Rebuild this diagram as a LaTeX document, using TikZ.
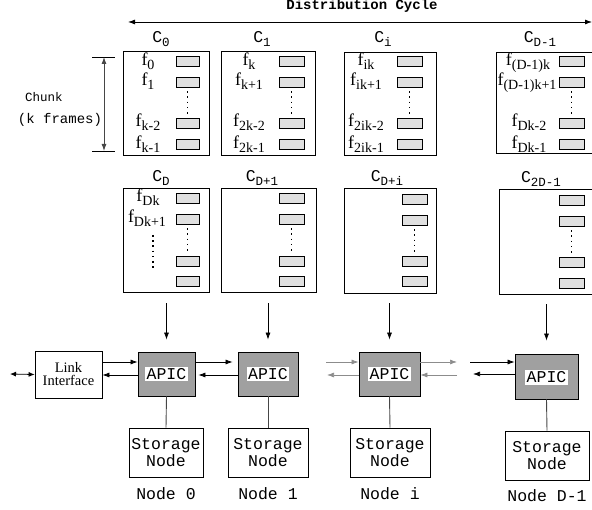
\documentclass[tikz,border=0pt]{standalone}
\usepackage{fontspec}
\setmainfont{Liberation Serif}
\setmonofont{Liberation Mono}
\usetikzlibrary{arrows.meta}
\definecolor{frmfill}{RGB}{224,224,224}
\definecolor{apicfill}{RGB}{160,160,160}
\definecolor{linkgray}{RGB}{140,140,140}
\definecolor{stemgray}{RGB}{70,70,70}
\newcommand\CL[1]{{\fontsize{16.5}{16.5}\selectfont\ttfamily C\raisebox{-3.5pt}{\fontsize{12.5}{12.5}\selectfont #1}}}
\newcommand\FL[1]{{\fontsize{18}{18}\selectfont f\raisebox{-4pt}{\fontsize{14}{14}\selectfont #1}}}
\newcommand\framecol[7]{%
  \node[frm, minimum width=#3] (#1a) at (#2,#4) {};
  \node[frm, minimum width=#3] (#1b) at (#2,#5) {};
  \node[frm, minimum width=#3] (#1c) at (#2,#6) {};
  \node[frm, minimum width=#3] (#1d) at (#2,#7) {};
  \draw[dotline] ([yshift=-4pt]#1b.south) -- ([yshift=3pt]#1c.north);}
\begin{document}
\begin{tikzpicture}[x=1pt,y=-1pt,
  chunkbox/.style={draw, line width=0.8pt, inner sep=0pt},
  frm/.style={draw, line width=0.6pt, fill=frmfill, minimum height=10pt, inner sep=0pt},
  dotline/.style={line width=1.6pt, dash pattern=on 1.6pt off 3.6pt},
  arr/.style={line width=0.7pt, -{Latex[length=7pt,width=5pt]}},
  garr/.style={line width=0.7pt, draw=linkgray, -{Latex[length=7pt,width=5pt]}, linkgray},
  apicbox/.style={draw, line width=0.8pt, fill=apicfill, minimum width=60pt, minimum height=44pt, inner sep=0pt},
  apiclbl/.style={fill=white, inner sep=1.5pt, font=\fontsize{16.5}{16.5}\selectfont\ttfamily},
  storebox/.style={draw, line width=0.8pt, minimum height=49pt, inner sep=0pt, align=center, font=\fontsize{16.5}{17}\selectfont\ttfamily},
  mono/.style={font=\fontsize{16.5}{16.5}\selectfont\ttfamily},
  flbl/.style={anchor=base, inner sep=0pt},
  clbl/.style={anchor=base, inner sep=0pt}]
\useasboundingbox (0,0) rectangle (592,510);

% distribution cycle
\node[anchor=base, inner sep=0pt, font=\fontsize{14}{14}\selectfont\ttfamily\bfseries] (dist) at (362,10) {Distribution Cycle};
\coordinate (dl) at (128,22);
\coordinate (dr) at (592,22);
\draw[line width=0.8pt, {Latex[length=7pt,width=5pt]}-{Latex[length=7pt,width=5pt]}] (dl) -- (dr);

% chunk bracket
\coordinate (bt) at (104,57);
\coordinate (bb) at (104,151);
\draw[line width=0.7pt] (92,57) -- (115,57) (92,151) -- (115,151);
\draw[line width=0.9pt, draw=stemgray, {Latex[length=7pt,width=5pt]}-{Latex[length=7pt,width=5pt]}] (bt) -- (bb);
\node[anchor=base, inner sep=0pt, font=\fontsize{12.5}{12.5}\selectfont\ttfamily] (chunk) at (44,102) {Chunk};
\node[anchor=base, inner sep=0pt, font=\fontsize{14}{14}\selectfont\ttfamily] (kfr) at (60,124) {(k frames)};

% row 1 chunk boxes
\node[chunkbox, minimum width=86pt, minimum height=104pt] (c0) at (166,103) {};
\node[chunkbox, minimum width=94pt, minimum height=104pt] (c1) at (268,103) {};
\node[chunkbox, minimum width=92pt, minimum height=103pt] (ci) at (390,103.5) {};
\node[chunkbox, minimum width=98pt, minimum height=101pt] (cd1) at (545,102.5) {};
\node[clbl] (lc0) at (161,43) {\CL{0}};
\node[clbl] (lc1) at (262,43) {\CL{1}};
\node[clbl] (lci) at (383,43) {\CL{i}};
\node[clbl] (lcd1) at (540,43) {\CL{D-1}};

\framecol{fa}{187.5}{23pt}{61.5}{82}{123}{144.5}
\framecol{fb}{291.5}{25pt}{61.5}{82}{123}{144.5}
\framecol{fc}{409.5}{25pt}{61.5}{82}{123}{144.5}
\framecol{fd}{571.5}{25pt}{61.5}{82}{123}{144.5}

\node[flbl] (f0) at (148,65.5) {\FL{0}};
\node[flbl] (f1) at (148,86) {\FL{1}};
\node[flbl] (f2) at (148,127) {\FL{k-2}};
\node[flbl] (f3) at (148,148.5) {\FL{k-1}};
\node[flbl] (g0) at (249,65.5) {\FL{k}};
\node[flbl] (g1) at (249,86) {\FL{k+1}};
\node[flbl] (g2) at (249,127) {\FL{2k-2}};
\node[flbl] (g3) at (249,148.5) {\FL{2k-1}};
\node[flbl] (h0) at (366,65.5) {\FL{ik}};
\node[flbl] (h1) at (366,86) {\FL{ik+1}};
\node[flbl] (h2) at (366,127) {\FL{2ik-2}};
\node[flbl] (h3) at (366,148.5) {\FL{2ik-1}};
\node[flbl] (j0) at (528,65.5) {\FL{(D-1)k}};
\node[flbl] (j1) at (527,86) {\FL{(D-1)k+1}};
\node[flbl] (j2) at (529,127) {\FL{Dk-2}};
\node[flbl] (j3) at (529,148.5) {\FL{Dk-1}};

% row 2 chunk boxes
\node[chunkbox, minimum width=86pt, minimum height=104pt] (cD) at (166,240) {};
\node[chunkbox, minimum width=95pt, minimum height=104pt] (cD1) at (268.5,240) {};
\node[chunkbox, minimum width=92pt, minimum height=105pt] (cDi) at (390,240.5) {};
\node[chunkbox, minimum width=95pt, minimum height=105pt] (c2D) at (546.5,241.5) {};
\node[clbl] (lcD) at (161,182) {\CL{D}};
\node[clbl] (lcD1) at (262,182) {\CL{D+1}};
\node[clbl] (lcDi) at (387,182) {\CL{D+i}};
\node[clbl] (lc2D) at (541,183) {\CL{2D-1}};

\framecol{ka}{187.5}{23pt}{198}{219}{261}{281}
\framecol{kb}{291.5}{25pt}{198}{219}{261}{281}
\framecol{kc}{414.5}{25pt}{199}{220}{261}{281}
\framecol{kd}{571.5}{25pt}{200}{221}{262}{283}
\node[flbl] (m0) at (148,202) {\FL{Dk}};
\node[flbl] (m1) at (147,223) {\FL{Dk+1}};
\coordinate (md1) at (153,235);
\coordinate (md2) at (153,270);
\draw[dotline] (md1) -- (md2);

% APIC nodes
\node[apicbox, minimum width=57pt] (a0) at (166.5,374) {};
\node[apicbox] (a1) at (268,374) {};
\node[apicbox, minimum width=61pt] (ai) at (389.5,374) {};
\node[apicbox, minimum width=63pt, minimum height=45pt] (ad) at (546.5,376.5) {};
\node[apiclbl] (t0) at (a0) {APIC};
\node[apiclbl] (t1) at (a1) {APIC};
\node[apiclbl] (ti) at (ai) {APIC};
\node[apiclbl] (td) at ([yshift=-1pt]ad.center) {APIC};

% chunk to APIC arrows
\draw[arr, shorten <=11pt, shorten >=12pt] (a0.north |- cD.south) -- (a0.north);
\draw[arr, shorten <=11pt, shorten >=12pt] (a1.north |- cD1.south) -- (a1.north);
\draw[arr, shorten <=10pt, shorten >=12pt] (ai.north |- cDi.south) -- (ai.north);
\draw[arr, shorten <=10pt, shorten >=13pt] (ad.north |- c2D.south) -- (ad.north);

% link interface
\node[draw, line width=0.8pt, minimum width=67pt, minimum height=47pt, inner sep=0pt, align=center, font=\fontsize{14.5}{13}\selectfont] (link) at (68.5,374.5) {Link\\Interface};
\coordinate (ext) at (10,374);
\draw[line width=0.8pt, {Latex[length=6pt,width=5pt]}-{Latex[length=6pt,width=5pt]}] (ext) -- (link.west);

\coordinate (up) at (0,362);
\coordinate (lo) at (0,375);
\draw[arr] (link.east |- up) -- (a0.west |- up);
\draw[arr] (a0.west |- lo) -- (link.east |- lo);
\draw[arr, shorten >=5pt] (a0.east |- up) -- (a1.west |- up);
\draw[arr, shorten >=3pt] (a1.west |- lo) -- (a0.east |- lo);

\coordinate (gl1) at (326,362);
\coordinate (gl2) at (327,375);
\coordinate (gr1) at (457,362);
\coordinate (gr2) at (457,375);
\draw[garr] (gl1) -- (ai.west |- up);
\draw[garr] (ai.west |- lo) -- (gl2);
\draw[garr] (ai.east |- up) -- (gr1);
\draw[garr] (gr2) -- (ai.east |- lo);

\coordinate (bl1) at (470,362);
\coordinate (bl2) at (473,374);
\draw[arr] (bl1) -- (ad.west |- bl1);
\draw[arr] (ad.west |- bl2) -- (bl2);

% storage nodes
\node[storebox, minimum width=74pt] (s0) at (166,452.5) {Storage\\Node};
\node[storebox, minimum width=80pt] (s1) at (268,452.5) {Storage\\Node};
\node[storebox, minimum width=80pt] (si) at (390,452.5) {Storage\\Node};
\node[storebox, minimum width=84pt] (sd) at (547,455.5) {Storage\\Node};
\draw[line width=0.9pt, stemgray] (a0.south) -- (s0.north);
\draw[line width=0.9pt, stemgray] (a1.south) -- (s1.north);
\draw[line width=0.9pt, stemgray] (ai.south) -- (si.north);
\draw[line width=0.9pt, stemgray] (ad.south) -- (sd.north);

% node labels
\node[mono, anchor=base, inner sep=0pt] (n0) at (166,500) {Node 0};
\node[mono, anchor=base, inner sep=0pt] (n1) at (268,500) {Node 1};
\node[mono, anchor=base, inner sep=0pt] (ni) at (390,500) {Node i};
\node[mono, anchor=base, inner sep=0pt] (nd) at (547,501) {Node D-1};
\end{tikzpicture}
\end{document}
